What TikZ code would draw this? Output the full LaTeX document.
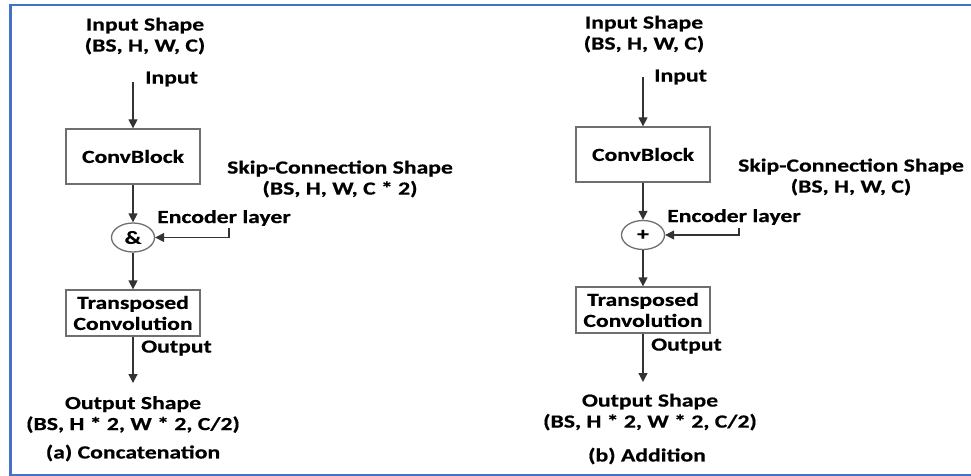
\documentclass[tikz,border=0pt]{standalone}
\usepackage{fontspec}
\setmainfont{Carlito}[FakeStretch=1.28,BoldFeatures={FakeBold=0.6}]
\usetikzlibrary{shapes.geometric,arrows.meta}

\definecolor{framebl}{HTML}{4472C4}
\definecolor{linegr}{HTML}{333333}
\definecolor{boxgr}{HTML}{6F6F6F}

\begin{document}
\begin{tikzpicture}[x=1pt,y=-1pt,
	font=\fontsize{18.5}{21}\selectfont\bfseries,
	blk/.style={draw=boxgr,line width=1.3pt,minimum width=134pt,inner sep=2pt,align=center},
	joiner/.style={ellipse,draw=boxgr,line width=1.3pt,minimum width=43pt,minimum height=29pt,inner sep=0pt},
	txt/.style={align=center,inner sep=0pt},
	flow/.style={draw=linegr,line width=1.3pt,-{Triangle[width=9pt,length=9pt]}}]
	\useasboundingbox (0,0) rectangle (971,476);
	
	% outer frame (open on the right)
	\draw[framebl,line width=2.5pt] (971,5) -- (10.5,5) -- (10.5,475) -- (971,475);
	
	% (a) concatenation
	\node[txt] (inshapeA) at (145,36) {Input Shape\\(BS, H, W, C)};
	\coordinate (inA) at (133,82);
	\node[blk,minimum height=55pt] (convA) at (133,156.5) {ConvBlock};
	\node[txt] (skipA) at (340,179) {Skip-Connection Shape\\(BS, H, W, C * 2)};
	\node[joiner] (sumA) at (133,237.5) {\&};
	\coordinate (encA) at (229,228);
	\node[blk,minimum height=46pt] (tconvA) at (133,313) {Transposed\\Convolution};
	\coordinate (outA) at (133,383);
	\node[txt] (outshapeA) at (133,414.5) {Output Shape\\(BS, H * 2, W * 2, C/2)};
	\node[txt] (capA) at (133,453) {(a) Concatenation};
	
	\draw[flow] (inA) -- (convA);
	\draw[flow] (convA) -- (sumA);
	\draw[flow] (encA) |- (sumA.east);
	\draw[flow] (sumA) -- (tconvA);
	\draw[flow] (tconvA) -- (outA);
	\node[txt,anchor=west] (inlblA) at (145,79) {Input};
	\node[txt,anchor=west] (enclblA) at (157,218) {Encoder layer};
	\node[txt,anchor=west] (outlblA) at (141,348) {Output};
	
	% (b) addition
	\node[txt] (inshapeB) at (644,34) {Input Shape\\(BS, H, W, C)};
	\coordinate (inB) at (643,77);
	\node[blk,minimum height=55pt] (convB) at (643,154.5) {ConvBlock};
	\node[txt] (skipB) at (851,177) {Skip-Connection Shape\\(BS, H, W, C)};
	\node[joiner] (sumB) at (643,235) {+};
	\coordinate (encB) at (739,228);
	\node[blk,minimum height=46pt] (tconvB) at (643,310) {Transposed\\Convolution};
	\coordinate (outB) at (643,382);
	\node[txt] (outshapeB) at (650,412) {Output Shape\\(BS, H * 2, W * 2, C/2)};
	\node[txt] (capB) at (647,456) {(b) Addition};
	
	\draw[flow] (inB) -- (convB);
	\draw[flow] (convB) -- (sumB);
	\draw[flow] (encB) |- (sumB.east);
	\draw[flow] (sumB) -- (tconvB);
	\draw[flow] (tconvB) -- (outB);
	\node[txt,anchor=west] (inlblB) at (654,77) {Input};
	\node[txt,anchor=west] (enclblB) at (667,217) {Encoder layer};
	\node[txt,anchor=west] (outlblB) at (651,346) {Output};
\end{tikzpicture}
\end{document}
